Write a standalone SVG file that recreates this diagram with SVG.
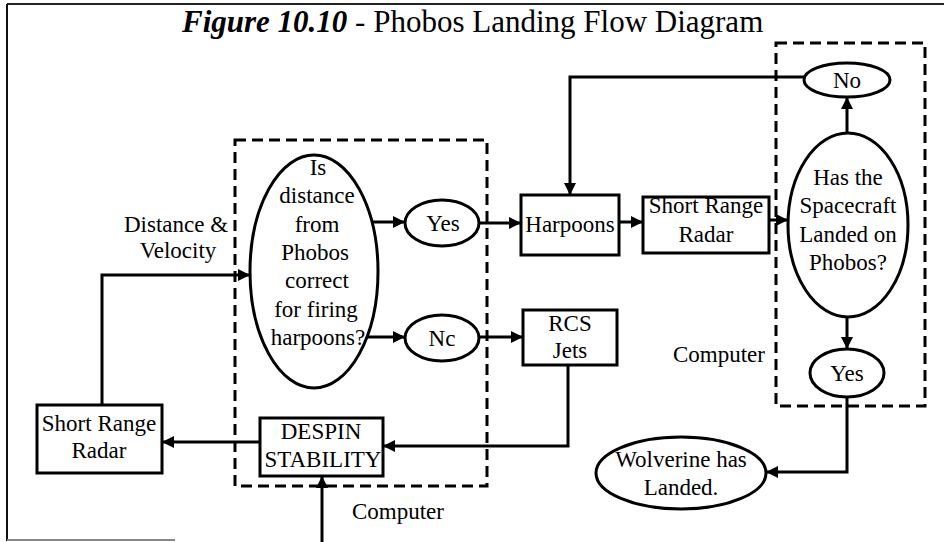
<svg xmlns="http://www.w3.org/2000/svg" width="944" height="542" viewBox="0 0 944 542">
<defs>
<marker id="ah" markerWidth="13" markerHeight="12" refX="12" refY="6" orient="auto" markerUnits="userSpaceOnUse">
<path d="M0,0 L12,6 L0,12 Z" fill="#000"/>
</marker>
<style>
.t{font-family:"Liberation Serif","Times New Roman",serif;font-size:23px;fill:#000;text-anchor:middle}
.n{fill:#fff;stroke:#000;stroke-width:3}
.d{fill:none;stroke:#000;stroke-width:3;stroke-dasharray:11 6}
.c{fill:none;stroke:#000;stroke-width:3}
.a{marker-end:url(#ah)}
</style>
</defs>
<rect width="944" height="542" fill="#fff"/>
<g id="frame">
<line x1="7" y1="4" x2="944" y2="4" stroke="#222" stroke-width="2"/>
<line x1="7" y1="4" x2="7" y2="541" stroke="#111" stroke-width="2"/>
<line x1="7" y1="540" x2="175" y2="540" stroke="#888" stroke-width="2"/>
</g>
<text id="title" x="182" y="32" font-family="Liberation Serif, Times New Roman, serif" font-size="31"><tspan font-weight="bold" font-style="italic">Figure 10.10</tspan> - Phobos Landing Flow Diagram</text>
<g id="computer-left">
<rect class="d" x="235" y="140" width="252" height="346"/>
<text class="t" x="352" y="519" style="text-anchor:start">Computer</text>
</g>
<g id="computer-right">
<rect class="d" x="776" y="43" width="149" height="363"/>
<text class="t" x="765" y="362" style="text-anchor:end">Computer</text>
</g>
<g id="connectors">
<polyline class="c a" points="102,405 102,275 250,275"/>
<line class="c a" x1="372" y1="222" x2="405" y2="222"/>
<line class="c a" x1="367" y1="337" x2="405" y2="337"/>
<line class="c a" x1="479" y1="223" x2="521" y2="223"/>
<line class="c a" x1="479" y1="337" x2="523" y2="337"/>
<line class="c a" x1="619" y1="222" x2="643" y2="222"/>
<line class="c a" x1="769" y1="220" x2="788" y2="220"/>
<line class="c a" x1="847" y1="133" x2="847" y2="97"/>
<polyline class="c a" points="804,77 570,77 570,195"/>
<line class="c a" x1="847" y1="317" x2="847" y2="349"/>
<polyline class="c a" points="847,397 847,472 766,472"/>
<polyline class="c a" points="568,365 568,446 383,446"/>
<line class="c a" x1="260" y1="442" x2="162" y2="442"/>
<line class="c a" x1="322" y1="542" x2="322" y2="476"/>
</g>
<g id="decision-distance">
<ellipse class="n" cx="314" cy="271.5" rx="64" ry="116.5"/>
<text class="t" x="318" y="175">Is</text>
<text class="t" x="317" y="203">distance</text>
<text class="t" x="317" y="232">from</text>
<text class="t" x="315" y="260">Phobos</text>
<text class="t" x="317" y="288">correct</text>
<text class="t" x="316" y="317">for firing</text>
<text class="t" x="318" y="345">harpoons?</text>
</g>
<g id="yes1">
<ellipse class="n" cx="442" cy="223" rx="37" ry="23"/>
<text class="t" x="443" y="231">Yes</text>
</g>
<g id="no1">
<ellipse class="n" cx="442" cy="338" rx="37" ry="23"/>
<text class="t" x="442" y="346">Nc</text>
</g>
<g id="harpoons">
<rect class="n" x="521" y="195" width="98" height="60"/>
<text class="t" x="570" y="232">Harpoons</text>
</g>
<g id="radar-right">
<rect class="n" x="643" y="197" width="126" height="56"/>
<text class="t" x="706" y="213">Short Range</text>
<text class="t" x="706" y="242">Radar</text>
</g>
<g id="decision-landed">
<ellipse class="n" cx="848" cy="225" rx="60" ry="92"/>
<text class="t" x="848" y="185">Has the</text>
<text class="t" x="848" y="213">Spacecraft</text>
<text class="t" x="848" y="242">Landed on</text>
<text class="t" x="848" y="270">Phobos?</text>
</g>
<g id="no2">
<ellipse class="n" cx="847" cy="80" rx="43" ry="17"/>
<text class="t" x="847" y="88">No</text>
</g>
<g id="yes2">
<ellipse class="n" cx="847" cy="373" rx="37" ry="24"/>
<text class="t" x="847" y="381">Yes</text>
</g>
<g id="landed">
<ellipse class="n" cx="681" cy="473" rx="85" ry="36"/>
<text class="t" x="681" y="467">Wolverine has</text>
<text class="t" x="681" y="495">Landed.</text>
</g>
<g id="rcs">
<rect class="n" x="523" y="310" width="94" height="55"/>
<text class="t" x="570" y="331">RCS</text>
<text class="t" x="570" y="358">Jets</text>
</g>
<g id="despin">
<rect class="n" x="260" y="418" width="123" height="58"/>
<text class="t" x="321" y="439">DESPIN</text>
<text class="t" x="323" y="467">STABILITY</text>
</g>
<g id="radar-left">
<rect class="n" x="37" y="405" width="125" height="68"/>
<text class="t" x="99" y="431">Short Range</text>
<text class="t" x="99" y="458">Radar</text>
</g>
<text class="t" x="176" y="232">Distance &amp;</text>
<text class="t" x="178" y="258">Velocity</text>
</svg>
